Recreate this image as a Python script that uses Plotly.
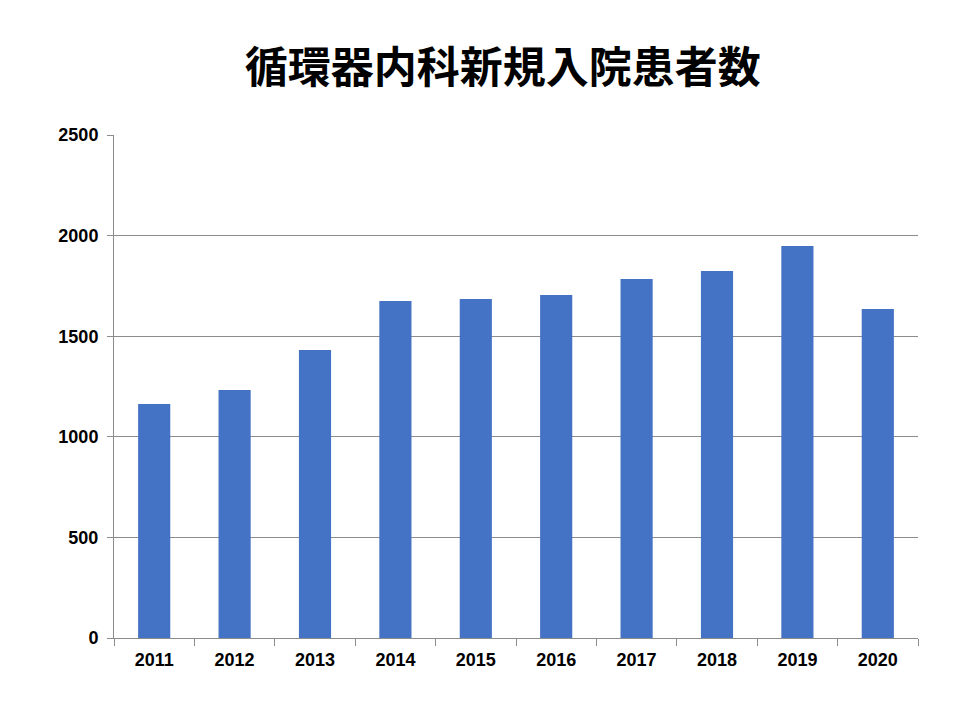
import plotly.graph_objects as go

# 循環器内科 新規入院患者数（年度別）
YEARS = ["2011", "2012", "2013", "2014", "2015", "2016", "2017", "2018", "2019", "2020"]
PATIENTS = [1163, 1233, 1431, 1675, 1685, 1705, 1784, 1824, 1948, 1635]

BAR_BLUE = "#4472C4"
GRID_GRAY = "#8C8C8C"
TICK_FONT = dict(family="'Liberation Sans', Arial, sans-serif", size=18, color="#000000")

fig = go.Figure(go.Bar(
    x=YEARS, y=PATIENTS,
    marker=dict(color=BAR_BLUE, line=dict(width=0)),
))

fig.update_layout(
    width=944, height=704,
    paper_bgcolor="#FFFFFF", plot_bgcolor="#FFFFFF",
    margin=dict(l=106, r=34, t=127, b=74),
    bargap=0.6,
    showlegend=False,
    title=dict(
        text="<b>循環器内科新規入院患者数</b>",
        x=0.524, xanchor="center", y=0.915, yanchor="middle",
        font=dict(family="'Noto Sans CJK JP', sans-serif", size=43, color="#000000"),
    ),
    xaxis=dict(
        showgrid=False, showline=True, linecolor=GRID_GRAY, linewidth=1,
        ticks="outside", tickson="boundaries", ticklen=7, tickcolor=GRID_GRAY,
        ticklabelstandoff=5,
        tickfont=TICK_FONT, tickprefix="<b>", ticksuffix="</b>",
    ),
    yaxis=dict(
        range=[0, 2500], dtick=500,
        showgrid=True, gridcolor=GRID_GRAY, gridwidth=1,
        showline=True, linecolor=GRID_GRAY, linewidth=1,
        ticks="outside", ticklen=6, tickcolor=GRID_GRAY,
        ticklabelstandoff=5,
        zeroline=False,
        tickfont=TICK_FONT, tickprefix="<b>", ticksuffix="</b>",
    ),
)

fig.write_html("out.html")
